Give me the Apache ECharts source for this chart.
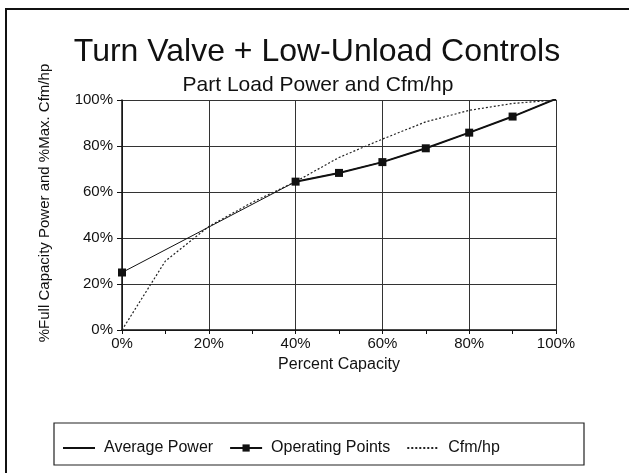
<!DOCTYPE html>
<html>
<head>
<meta charset="utf-8">
<script src="https://cdn.jsdelivr.net/npm/echarts@6/dist/echarts.min.js"></script>
<style>
  html, body { margin: 0; padding: 0; background: #fff; }
  #chart { width: 629px; height: 473px; }
</style>
</head>
<body>
<div id="chart"></div>
<script>
// percent capacity (x) and values (y, %)
var avgPower = [[0, 25], [40, 64.5], [50, 68.3], [60, 73], [70, 79], [80, 85.8], [90, 92.8], [100, 100.5]];
var opPoints = [[0, 25], [20, '-'], [40, 64.5], [50, 68.3], [60, 73], [70, 79], [80, 85.8], [90, 92.8], [100, 100.5]];
var cfmHp = [[0, 0], [10, 30], [20, 45], [30, 55.5], [40, 64.5], [50, 75], [60, 83], [70, 90.5], [80, 95.5], [90, 98.5], [100, 100]];

var myChart = echarts.init(document.getElementById('chart'));
var font = 'Liberation Sans, Arial, sans-serif';
var option = {
    backgroundColor: '#fff',
    animation: false,
    title: [{
        text: 'Turn Valve + Low-Unload Controls',
        left: 312,
        top: 31,
        textAlign: 'center',
        textStyle: { fontFamily: font, fontSize: 32, fontWeight: 'normal', color: '#111' }
    }, {
        text: 'Part Load Power and Cfm/hp',
        left: 313,
        top: 70,
        textAlign: 'center',
        textStyle: { fontFamily: font, fontSize: 21, fontWeight: 'normal', color: '#111' }
    }],
    graphic: [{
        type: 'rect',
        shape: { x: 6, y: 9, width: 700, height: 600 },
        style: { fill: 'none', stroke: '#111', lineWidth: 2 }
    }, {
        type: 'rect',
        shape: { x: 54, y: 423, width: 530, height: 42 },
        style: { fill: 'none', stroke: '#222', lineWidth: 1.2 }
    }, {
        // y axis title
        type: 'text',
        x: 45,
        y: 203,
        rotation: Math.PI / 2,
        style: {
            text: '%Full Capacity Power and %Max. Cfm/hp',
            font: '15px Liberation Sans, Arial, sans-serif',
            fill: '#111',
            align: 'center',
            verticalAlign: 'middle'
        }
    }],
    legend: {
        left: 57,
        top: 435,
        itemWidth: 32,
        itemHeight: 9,
        itemGap: 16,
        textStyle: { fontFamily: font, fontSize: 16, color: '#111', padding: [0, 0, 0, 4] },
        data: [
            { name: 'Average Power', itemStyle: { opacity: 0 } },
            { name: 'Operating Points' },
            { name: 'Cfm/hp', itemStyle: { opacity: 0 } }
        ]
    },
    grid: { left: 122, right: 73, top: 100, bottom: 143 },
    xAxis: {
        type: 'value',
        min: 0,
        max: 100,
        interval: 20,
        name: 'Percent Capacity',
        nameLocation: 'middle',
        nameGap: 27,
        nameTextStyle: { fontFamily: font, fontSize: 16, color: '#111' },
        axisLine: { lineStyle: { color: '#111', width: 1.5 } },
        axisTick: { show: true, length: 4, lineStyle: { color: '#111' } },
        minorTick: { show: true, splitNumber: 2, length: 4, lineStyle: { color: '#111' } },
        axisLabel: { fontFamily: font, fontSize: 15, color: '#111', margin: 6, formatter: '{value}%' },
        splitLine: { show: true, lineStyle: { color: '#333', width: 1 } }
    },
    yAxis: {
        type: 'value',
        min: 0,
        max: 100,
        interval: 20,
        axisLine: { show: true, lineStyle: { color: '#111', width: 1.5 } },
        axisTick: { show: true, length: 5, lineStyle: { color: '#111' } },
        axisLabel: { fontFamily: font, fontSize: 15, color: '#111', margin: 9, formatter: '{value}%' },
        splitLine: { show: true, lineStyle: { color: '#333', width: 1 } }
    },
    series: [{
        name: 'Average Power',
        type: 'line',
        symbol: 'none',
        data: avgPower,
        lineStyle: { color: '#111', width: 1 },
        itemStyle: { color: '#111' }
    }, {
        name: 'Operating Points',
        type: 'line',
        symbol: 'rect',
        symbolSize: 8,
        connectNulls: false,
        data: opPoints,
        lineStyle: { color: '#111', width: 2 },
        itemStyle: { color: '#111' }
    }, {
        name: 'Cfm/hp',
        type: 'line',
        symbol: 'none',
        data: cfmHp,
        lineStyle: { color: '#222', width: 1.2, type: [2, 2] },
        itemStyle: { color: '#222' }
    }]
};
myChart.setOption(option);
</script>
</body>
</html>
